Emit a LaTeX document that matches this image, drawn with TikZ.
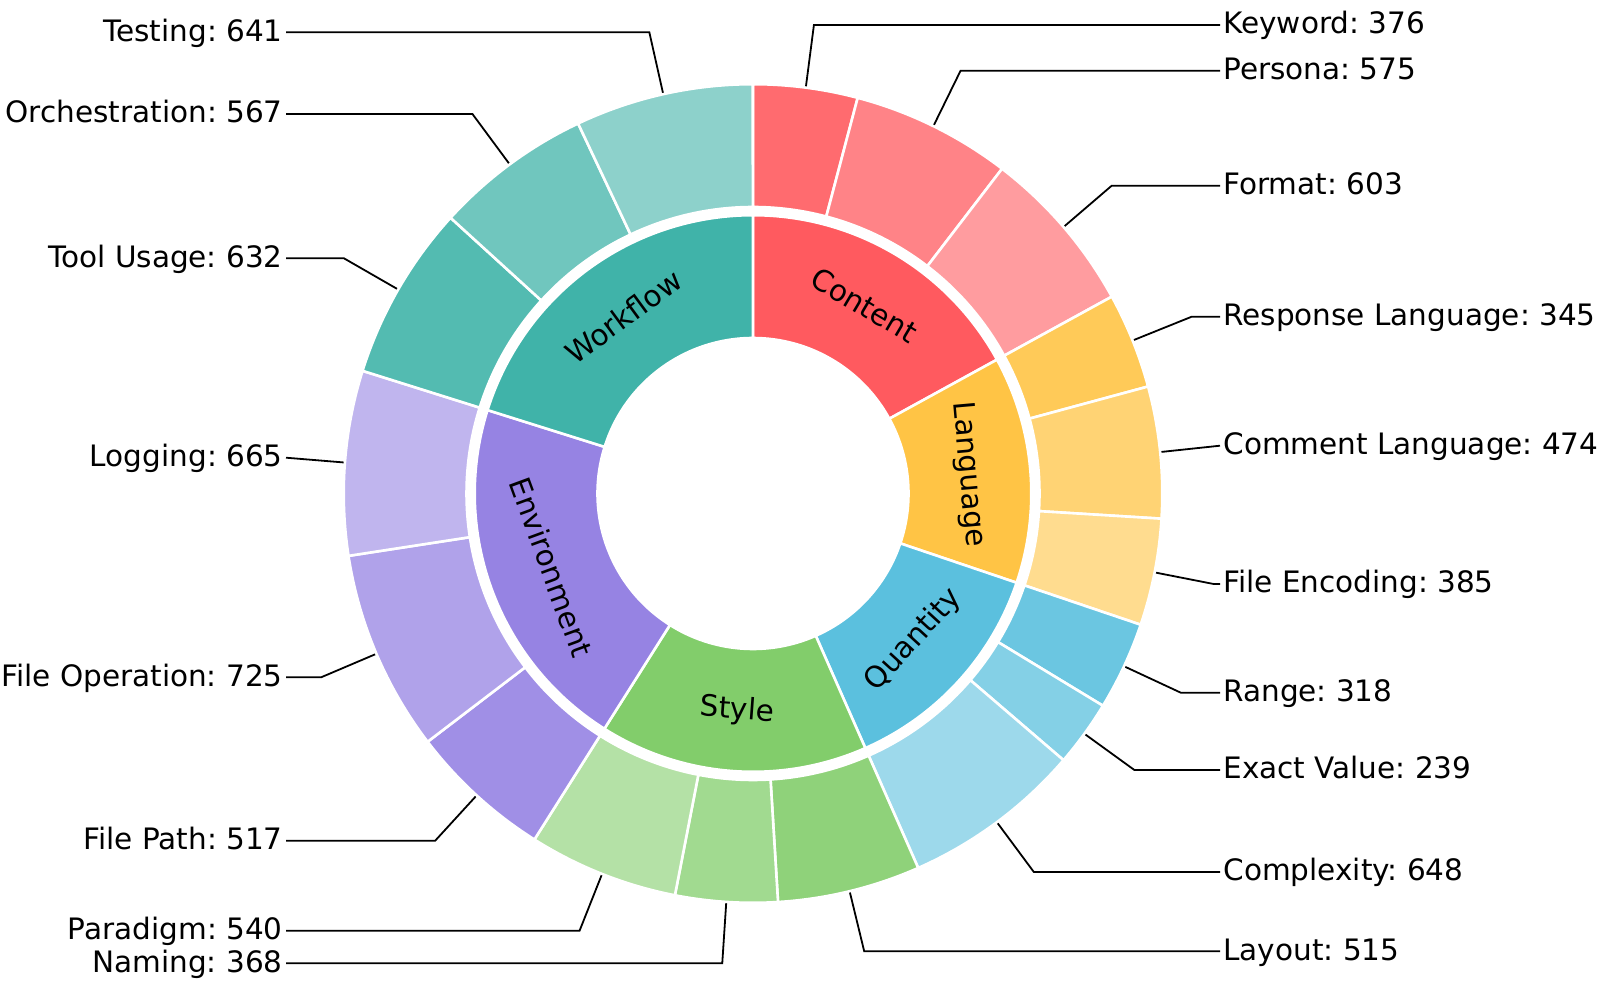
\documentclass[tikz,border=0pt]{standalone}
\usepackage{fontspec}
\setmainfont{DejaVu Sans}
\frenchspacing
\definecolor{cContent}{HTML}{FF5A5F}
\definecolor{cLanguage}{HTML}{FFC445}
\definecolor{cQuantity}{HTML}{5BC0DE}
\definecolor{cStyle}{HTML}{82CD6B}
\definecolor{cEnvironment}{HTML}{9683E3}
\definecolor{cWorkflow}{HTML}{40B3A9}
\def\outerdata{%
kw/0/376/cContent!90!white/Keyword: 376/25,
pe/376/575/cContent!75!white/Persona: 575/70.7,
fo/951/603/cContent!60!white/Format: 603/185.7,
rl/1554/345/cLanguage!90!white/Response Language: 345/316.7,
cl/1899/474/cLanguage!75!white/Comment Language: 474/445.7,
fe/2373/385/cLanguage!60!white/File Encoding: 385/584,
ra/2758/318/cQuantity!90!white/Range: 318/692.7,
ev/3076/239/cQuantity!75!white/Exact Value: 239/770,
cx/3315/648/cQuantity!60!white/Complexity: 648/872,
la/3963/515/cStyle!90!white/Layout: 515/951.3,
na/4478/368/cStyle!75!white/Naming: 368/963.3,
pa/4846/540/cStyle!60!white/Paradigm: 540/930.7,
fp/5386/517/cEnvironment!90!white/File Path: 517/840.7,
fop/5903/725/cEnvironment!75!white/File Operation: 725/677.3,
lo/6628/665/cEnvironment!60!white/Logging: 665/457.7,
tu/7293/632/cWorkflow!90!white/Tool Usage: 632/258.3,
or/7925/567/cWorkflow!75!white/Orchestration: 567/114,
te/8492/641/cWorkflow!60!white/Testing: 641/32.3}
\def\innerdata{%
Content/0/1554/cContent,
Language/1554/1204/cLanguage,
Quantity/2758/1205/cQuantity,
Style/3963/1423/cStyle,
Environment/5386/1907/cEnvironment,
Workflow/7293/1840/cWorkflow}
\begin{document}
\begin{tikzpicture}[x=0.5pt,y=0.5pt,
  wedge/.style={draw=white,line width=1.3pt},
  lab/.style={font=\fontsize{14.75}{17}\selectfont, inner sep=0pt, text height=11.8pt, text depth=2.95pt},
  conn/.style={draw=black,line width=0.9pt,line join=miter}]
\fill[white] (0,0) rectangle (1600,987);
\path[use as bounding box] (0,0) rectangle (1600,987);
\begin{scope}[shift={(753,493.5)}]
\def\K{0.0394175}
\def\Ro{409.3}\def\Rm{286.5}\def\Ri{278.3}\def\Rh{155.5}
% connectors and outer labels
\foreach \n/\s/\v/\c/\t/\y in \outerdata {
  \pgfmathsetmacro\aa{90-\s*\K}
  \pgfmathsetmacro\ab{90-(\s+\v)*\K}
  \pgfmathsetmacro\am{(\aa+\ab)/2}
  \pgfmathsetmacro\Y{493.5-\y}
  \pgfmathsetmacro\sg{ifthenelse(cos(\am)>0,1,-1)}
  \pgfmathsetmacro\X{\sg*min(\sg*\Y*cos(\am)/sin(\am),467)}
  \pgfmathsetmacro\Lx{470*\sg}
  \ifdim\sg pt>0pt \def\anc{west}\else\def\anc{east}\fi
  \coordinate (p-\n) at (\am:\Ro);
  \coordinate (e-\n) at (\X,\Y);
  \node[lab,anchor=\anc] (l-\n) at (\Lx,\Y) {\t};
  \draw[conn,shorten >=1.5pt] (p-\n) -- (e-\n) -- (l-\n);
}
% outer wedges
\foreach \n/\s/\v/\c/\t/\y in \outerdata {
  \pgfmathsetmacro\aa{90-\s*\K}
  \pgfmathsetmacro\ab{90-(\s+\v)*\K}
  \fill[\c,wedge] (\aa:\Ro) arc[start angle=\aa,end angle=\ab,radius=\Ro]
     -- (\ab:\Rm) arc[start angle=\ab,end angle=\aa,radius=\Rm] -- cycle;
}
% inner wedges and labels
\foreach \n/\s/\v/\c in \innerdata {
  \pgfmathsetmacro\aa{90-\s*\K}
  \pgfmathsetmacro\ab{90-(\s+\v)*\K}
  \pgfmathsetmacro\am{(\aa+\ab)/2}
  \pgfmathsetmacro\rot{mod(\am+720,180)-90}
  \fill[\c,wedge] (\aa:\Ri) arc[start angle=\aa,end angle=\ab,radius=\Ri]
     -- (\ab:\Rh) arc[start angle=\ab,end angle=\aa,radius=\Rh] -- cycle;
  \node[lab,rotate=\rot] (i-\n) at (\am:216.9) {\n};
}
\end{scope}
\end{tikzpicture}
\end{document}
